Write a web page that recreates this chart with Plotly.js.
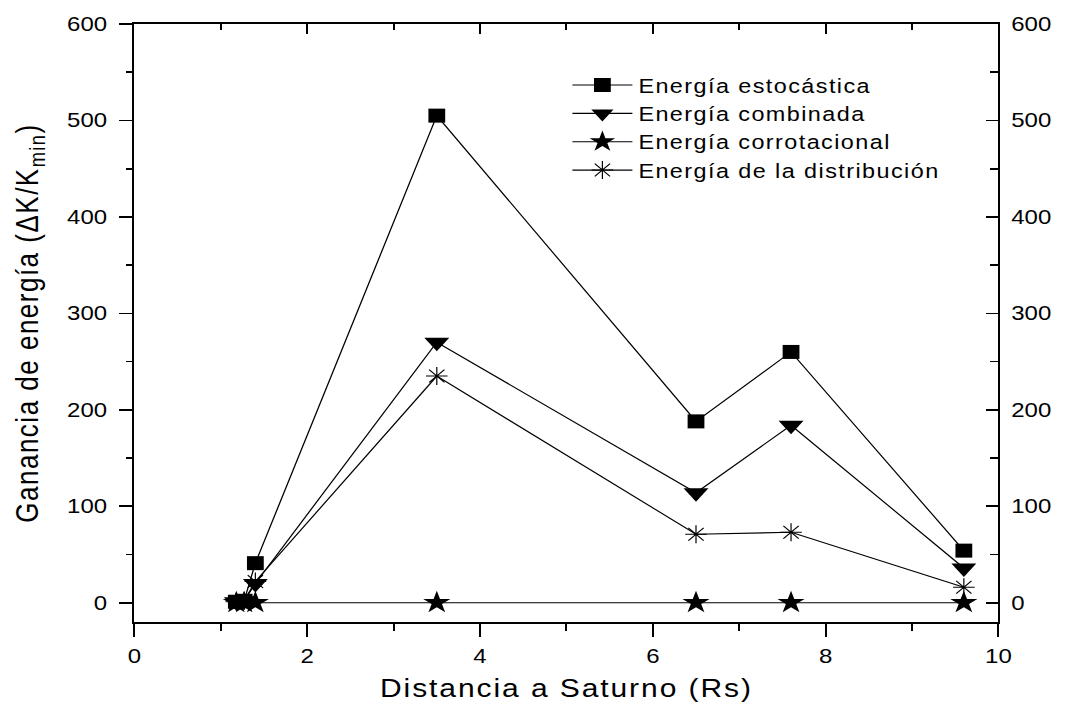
<!DOCTYPE html>
<html>
<head>
<meta charset="utf-8">
<script src="https://cdn.plot.ly/plotly-3.0.1.min.js"></script>
<style>
  html, body { margin: 0; padding: 0; background: #fff; overflow: hidden; }
  /* the figure is laid out narrower and widened horizontally, giving the broad lettering and markers */
  #chart { width: 890px; height: 717px; transform: scaleX(1.2); transform-origin: 0 0; }
  /* global so the text measurer also sees the spacing */
  .legendtext { letter-spacing: 1.2px; }
  #chart .g-ytitle text { letter-spacing: 1.5px; }
  #chart .g-xtitle text { letter-spacing: 1.6px; }
</style>
</head>
<body>
<div id="chart"></div>
<script>
// Distance to Saturn (Rs)
const distancia = [1.18, 1.27, 1.4, 3.5, 6.5, 7.6, 9.6];

// Energy gain (ΔK/Kmin) per mechanism
const estocastica   = [1, 2, 41, 505, 188, 260, 54];
const combinada     = [1, 2, 20, 270, 114, 184, 36];
const corrotacional = [0, 0, 0, 0, 0, 0, 0];
const distribucion  = [1, 2, 22, 235, 71, 73, 16];

const seriesNames = [
  'Energía estocástica',
  'Energía combinada',
  'Energía corrotacional',
  'Energía de la distribución'
];

const FONT = 'Liberation Sans, Arial, Helvetica, sans-serif';
const LINE = { color: '#000', width: 1.1 };

function serie(name, y, symbol, size, mline) {
  return {
    type: 'scatter', mode: 'lines+markers', name: name,
    x: distancia, y: y,
    line: LINE,
    marker: { symbol: symbol, size: size, color: '#000',
              line: { color: '#000', width: mline } },
    cliponaxis: false
  };
}

const traces = [
  serie(seriesNames[0], estocastica, 'square', 14, 0),
  serie(seriesNames[1], combinada, 'triangle-down', 18, 0),
  serie(seriesNames[2], corrotacional, 'star', 17, 0),
  serie(seriesNames[3], distribucion, 'asterisk-open', 15, 1),
  // carrier for the mirrored top / right axes
  { type: 'scatter', mode: 'markers', x: [null], y: [null], xaxis: 'x2', yaxis: 'y2',
    showlegend: false, hoverinfo: 'skip' }
];

const AX = 1.7;
const layout = {
  width: 890, height: 717,
  margin: { l: 112, r: 58, t: 24, b: 95 },
  paper_bgcolor: '#fff', plot_bgcolor: '#fff',
  font: { family: FONT, color: '#000', size: 20 },
  showlegend: true,
  legend: {
    x: 0.50, y: 0.93, xanchor: 'left', yanchor: 'top',
    bgcolor: 'rgba(0,0,0,0)', borderwidth: 0,
    font: { family: FONT, size: 19.5, color: '#000' },
    itemwidth: 50, tracegroupgap: 0
  },
  xaxis: {
    range: [0, 10], tick0: 0, dtick: 2,
    showgrid: false, zeroline: false,
    showline: true, linecolor: '#000', linewidth: AX,
    ticks: 'outside', ticklen: 13, tickwidth: AX, tickcolor: '#000',
    minor: { dtick: 1, ticks: 'outside', ticklen: 7, tickwidth: AX, tickcolor: '#000' },
    tickfont: { family: FONT, size: 20, color: '#000' },
    ticklabelstandoff: 2,
    title: { text: 'Distancia a Saturno (Rs)', font: { family: FONT, size: 25, color: '#000' }, standoff: 14 },
    automargin: false
  },
  xaxis2: {
    overlaying: 'x', side: 'top', anchor: 'y', range: [0, 10], tick0: 0, dtick: 2,
    showgrid: false, zeroline: false, showticklabels: false,
    showline: true, linecolor: '#000', linewidth: AX,
    ticks: 'inside', ticklen: 10, tickwidth: AX, tickcolor: '#000',
    minor: { dtick: 1, ticks: 'inside', ticklen: 6, tickwidth: AX, tickcolor: '#000' }
  },
  yaxis: {
    range: [-20, 600], tick0: 0, dtick: 100,
    showgrid: false, zeroline: false,
    showline: true, linecolor: '#000', linewidth: AX,
    ticks: 'outside', ticklen: 11, tickwidth: AX, tickcolor: '#000',
    minor: { dtick: 50, ticks: 'outside', ticklen: 5, tickwidth: AX, tickcolor: '#000' },
    tickfont: { family: FONT, size: 20, color: '#000' },
    ticklabelstandoff: 6,
    title: { text: 'Ganancia de energía (ΔK/K<sub>min</sub>)', font: { family: FONT, size: 26, color: '#000' }, standoff: 16 },
    automargin: false
  },
  yaxis2: {
    overlaying: 'y', side: 'right', anchor: 'x', range: [-20, 600], tick0: 0, dtick: 100,
    showgrid: false, zeroline: false,
    showline: true, linecolor: '#000', linewidth: AX,
    ticks: 'inside', ticklen: 10, tickwidth: AX, tickcolor: '#000',
    minor: { dtick: 50, ticks: 'inside', ticklen: 7, tickwidth: AX, tickcolor: '#000' },
    tickfont: { family: FONT, size: 20, color: '#000' },
    ticklabelstandoff: 5
  }
};

Plotly.newPlot('chart', traces, layout, { staticPlot: true, displayModeBar: false });
</script>
</body>
</html>
